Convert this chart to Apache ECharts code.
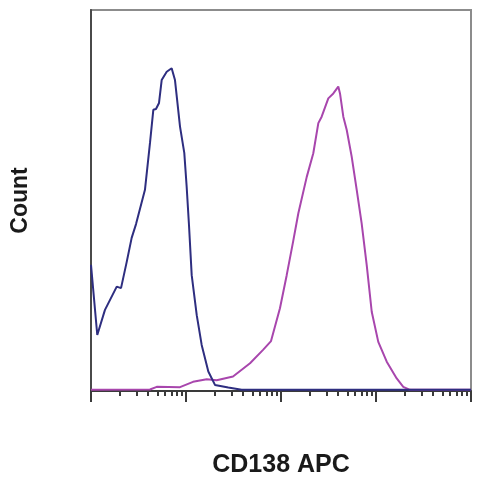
<!DOCTYPE html>
<html>
<head>
<meta charset="utf-8">
<script src="https://cdn.jsdelivr.net/npm/echarts@6/dist/echarts.min.js"></script>
<style>
  html, body { margin: 0; padding: 0; background: #fff; }
  #chart { width: 477px; height: 480px; }
</style>
</head>
<body>
<div id="chart"></div>
<script>
// x values are log10 decades from the left edge, y is count as % of the plot height
var blueLogX  = [0, 0.066, 0.147, 0.271, 0.316, 0.376, 0.428, 0.474, 0.568, 0.621, 0.656, 0.684, 0.716, 0.744, 0.797, 0.849, 0.884, 0.937, 0.982, 1.007, 1.032, 1.060, 1.113, 1.165, 1.235, 1.305, 1.445, 1.586, 4];
var blueCount = [33.1, 14.7, 21.3, 27.4, 27.0, 33.9, 40.2, 43.8, 52.8, 65.1, 73.8, 74.0, 75.6, 81.6, 83.8, 84.7, 81.6, 69.4, 62.5, 53.6, 43.3, 30.4, 19.9, 12.1, 5.1, 1.6, 0.9, 0.3, 0.3];

var pinkLogX  = [0, 0.621, 0.692, 0.937, 1.074, 1.218, 1.323, 1.495, 1.674, 1.811, 1.895, 1.989, 2.060, 2.129, 2.182, 2.271, 2.340, 2.393, 2.428, 2.498, 2.551, 2.603, 2.621, 2.656, 2.692, 2.744, 2.797, 2.849, 2.902, 2.955, 3.024, 3.113, 3.218, 3.287, 3.358, 4];
var pinkCount = [0.3, 0.4, 1.1, 1.0, 2.4, 3.1, 2.8, 3.8, 7.3, 10.8, 13.1, 21.7, 30.4, 39.4, 46.6, 56.2, 62.4, 70.3, 72.0, 76.8, 78.1, 79.9, 78.1, 72.0, 68.5, 61.5, 52.8, 44.0, 33.1, 20.8, 12.9, 7.7, 3.3, 1.1, 0.3, 0.3];

var majorTicks = [0, 1, 2, 3, 4];
var minorSteps = [2, 3, 4, 5, 6, 7, 8, 9];

var minorTicks = [];
for (var d = 0; d < 4; d++) {
  minorSteps.forEach(function (k) { minorTicks.push(d + Math.log10(k)); });
}

function pairs(xs, ys) {
  return xs.map(function (x, i) { return [x, ys[i]]; });
}

var chart = echarts.init(document.getElementById('chart'));

var option = {
  animation: false,
  grid: {
    left: 91, right: 6, top: 10, bottom: 89,
    containLabel: false,
    outerBoundsMode: 'none',
    show: true,
    borderColor: '#8c8c8c',
    borderWidth: 2
  },
  xAxis: [
    {
      type: 'value', min: 0, max: 4,
      name: 'CD138 APC',
      nameLocation: 'middle',
      nameGap: 62,
      nameTextStyle: { fontFamily: 'Liberation Sans', fontWeight: 'bold', fontSize: 25, color: '#1a1a1a' },
      axisLine: { show: true, lineStyle: { color: '#3a3a3a', width: 2 } },
      axisTick: { show: true, customValues: majorTicks, length: 11, lineStyle: { color: '#3a3a3a', width: 2 } },
      axisLabel: { show: false },
      splitLine: { show: false }
    },
    {
      type: 'value', min: 0, max: 4,
      position: 'bottom',
      axisLine: { show: false },
      axisTick: { show: true, customValues: minorTicks, length: 5, lineStyle: { color: '#3a3a3a', width: 2 } },
      axisLabel: { show: false },
      splitLine: { show: false }
    }
  ],
  yAxis: {
    type: 'value', min: 0, max: 100,
    name: 'Count',
    nameLocation: 'middle',
    nameGap: 59,
    nameRotate: 90,
    nameTextStyle: { fontFamily: 'Liberation Sans', fontWeight: 'bold', fontSize: 23, color: '#1a1a1a' },
    axisLine: { show: true, lineStyle: { color: '#4a4a4a', width: 2 } },
    axisTick: { show: false },
    axisLabel: { show: false },
    splitLine: { show: false }
  },
  series: [
    {
      type: 'line',
      data: pairs(pinkLogX, pinkCount),
      symbol: 'none',
      lineStyle: { color: '#a846ad', width: 2 }
    },
    {
      type: 'line',
      data: pairs(blueLogX, blueCount),
      symbol: 'none',
      lineStyle: { color: '#2e2e80', width: 2 }
    }
  ]
};

chart.setOption(option);
</script>
</body>
</html>
